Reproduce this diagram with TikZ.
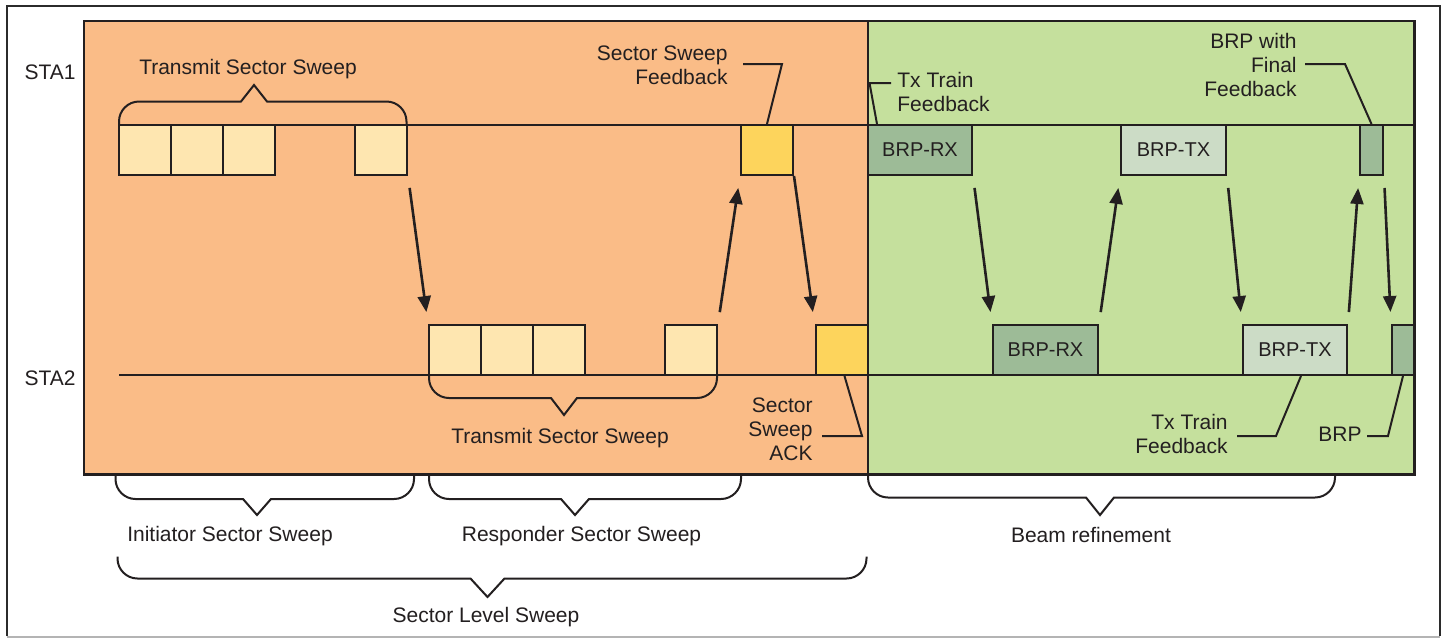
\documentclass[tikz,border=0pt]{standalone}
\usepackage{fontspec}
\setmainfont{Liberation Sans}
\usetikzlibrary{arrows.meta,calc}
\definecolor{ink}{HTML}{231F20}
\definecolor{orng}{HTML}{FABC87}
\definecolor{grn}{HTML}{C5E09D}
\definecolor{pale}{HTML}{FEE6B0}
\definecolor{gold}{HTML}{FDD45C}
\definecolor{sage}{HTML}{9DBB97}
\definecolor{lsage}{HTML}{CCDCC6}
\definecolor{frm}{HTML}{2B2B2B}
\definecolor{frmlight}{HTML}{B4B4B4}
% x1 x2 ybase ybar tipx tipy dir halfwidth
\newcommand\mybrace[8]{%
\draw[bracestyle] (#1,#3) -- (#1,{#4-#7*20}) .. controls (#1,{#4-#7*9}) and ({#1+9},#4) .. ({#1+20},#4)
 -- ({#5-#8},#4) -- (#5,#6) -- ({#5+#8},#4) -- ({#2-20},#4)
 .. controls ({#2-9},#4) and (#2,{#4-#7*9}) .. (#2,{#4-#7*20}) -- (#2,#3);}
\begin{document}
\begin{tikzpicture}[x=0.5pt,y=-0.5pt,
  every node/.style={text=ink, font=\fontsize{10.5}{12}\selectfont},
  lbl/.style={align=right, inner sep=0pt},
  lbll/.style={align=left, inner sep=0pt},
  boxbase/.style={draw=ink, line width=1pt, inner sep=0pt, minimum height=25pt, font=\fontsize{10}{12}\selectfont},
  pbox/.style={boxbase, fill=pale, minimum width=26pt},
  gbox/.style={boxbase, fill=gold, minimum width=26pt},
  dbox/.style={boxbase, fill=sage},
  lbox/.style={boxbase, fill=lsage},
  panel/.style={draw=ink, line width=1.2pt},
  tl/.style={draw=ink, line width=1pt},
  bracestyle/.style={draw=ink, line width=1pt, line join=miter},
  lead/.style={draw=ink, line width=1pt},
  arr/.style={draw=ink, line width=1.3pt, -{Triangle[length=8pt,width=6.5pt]}, shorten <=6pt, shorten >=6pt}
]
\useasboundingbox (0,0) rectangle (1447,639);
\fill[white] (0,0) rectangle (1447,639);
% outer frame
\draw[frm, line width=1.1pt] (7,636) -- (7,6) -- (1440,6) -- (1440,636);
\draw[frmlight, line width=1pt] (7,636.5) -- (1440,636.5);

% panels
\fill[orng] (84,21) rectangle (868,474.5);
\fill[grn] (868,21) rectangle (1414.5,474.5);
\draw[panel] (84,21) rectangle (1414.5,474.5);
\draw[panel] (868,21) -- (868,474.5);

% station labels
\node (sta1) at (50,72) {STA1};
\node (sta2) at (50,378) {STA2};

% time lines
\draw[tl] (119,124.5) -- (1414.5,124.5);
\draw[tl] (119,375) -- (1414.5,375);

% STA1 frames
\node[pbox] (a1) at (145,150) {};
\node[pbox] (a2) at (197,150) {};
\node[pbox] (a3) at (248.5,150) {};
\node[pbox] (a4) at (381,150) {};
\node[gbox] (fb) at (767,150) {};
\node[dbox, minimum width=52pt] (r1) at (920,150) {BRP-RX};
\node[lbox, minimum width=52.5pt] (t1) at (1173.5,150) {BRP-TX};
\node[dbox, minimum width=11.5pt] (s1) at (1371.5,150) {};

% STA2 frames
\node[pbox] (b1) at (455,350) {};
\node[pbox] (b2) at (507,350) {};
\node[pbox] (b3) at (558.5,350) {};
\node[pbox] (b4) at (691,350) {};
\node[gbox] (ack) at (841.5,350) {};
\node[dbox, minimum width=52.5pt] (r2) at (1045.5,350) {BRP-RX};
\node[lbox, minimum width=52pt] (t2) at (1295,350) {BRP-TX};
\node[dbox, minimum width=11pt] (s2) at (1403,350) {};

% braces
\mybrace{119}{406.5}{124.5}{101.5}{254}{85}{-1}{13}
\mybrace{429}{717}{375}{398}{564}{415}{1}{13}
\mybrace{115.5}{414}{475}{499}{257}{515}{1}{14}
\mybrace{429}{741}{475}{499}{575}{515}{1}{14}
\mybrace{868}{1335}{475}{497.5}{1100}{515}{1}{14}
\mybrace{117.5}{866.5}{556.5}{578.5}{487.5}{597}{1}{17}

% brace labels
\node (tss1) at (248,69) {Transmit Sector Sweep};
\node (tss2) at (560,438.5) {Transmit Sector Sweep};
\node (iss) at (230,536) {Initiator Sector Sweep};
\node (rss) at (581.5,536) {Responder Sector Sweep};
\node (bref) at (1091,535) {Beam refinement};
\node (sls) at (486,617) {Sector Level Sweep};

% callout labels
\node[lbl, anchor=east] (lfb) at (728,65) {Sector Sweep\\Feedback};
\coordinate (lfb1) at (743,64);
\coordinate (lfb2) at (782,64);
\draw[lead] (lfb1) -- (lfb2) -- (fb.north);

\node[lbll, anchor=west] (ltx1) at (897,91.5) {Tx Train\\Feedback};
\coordinate (ltx1a) at (891,83);
\coordinate (ltx1b) at (869.5,83);
\draw[lead] (ltx1a) -- (ltx1b) -- ($(r1.north west)+(10,0)$);

\node[lbl, anchor=east] (lbf) at (1297,64.5) {BRP with\\Final\\Feedback};
\coordinate (lbf1) at (1305,64);
\coordinate (lbf2) at (1345,64);
\draw[lead] (lbf1) -- (lbf2) -- (s1.north);

\node[lbl, anchor=east] (lack) at (813,429.5) {Sector\\Sweep\\ACK};
\coordinate (lack1) at (822,436);
\coordinate (lack2) at (862,436);
\draw[lead] (lack1) -- (lack2) -- ($(ack.south)+(3,0)$);

\node[lbl, anchor=east] (ltx2) at (1228,434) {Tx Train\\Feedback};
\coordinate (ltx2a) at (1237,436);
\coordinate (ltx2b) at (1276,436);
\draw[lead] (ltx2a) -- (ltx2b) -- ($(t2.south)+(6,0)$);

\node[lbl, anchor=east] (lbrp) at (1362,434) {BRP};
\coordinate (lbrp1) at (1367,436);
\coordinate (lbrp2) at (1388,436);
\draw[lead] (lbrp1) -- (lbrp2) -- (s2.south);

% message arrows
\draw[arr] (a4.south east) -- (b1.north west);
\draw[arr] (b4.north east) -- (fb.south west);
\draw[arr, shorten <=0pt] (fb.south east) -- (ack.north west);
\draw[arr] (r1.south east) -- (r2.north west);
\draw[arr] (r2.north east) -- (t1.south west);
\draw[arr] (t1.south east) -- (t2.north west);
\draw[arr] (t2.north east) -- (s1.south west);
\draw[arr] (s1.south east) -- (s2.north west);
\end{tikzpicture}
\end{document}
